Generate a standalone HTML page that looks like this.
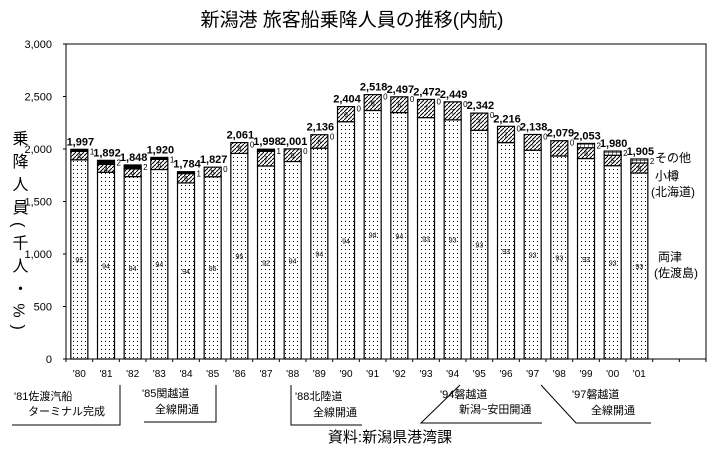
<!DOCTYPE html>
<html><head><meta charset="utf-8"><style>
body{margin:0;background:#fff;}
svg{display:block;font-family:"Liberation Sans","Noto Sans CJK JP",sans-serif;}
</style></head><body>
<svg id="chart" width="710" height="450" viewBox="0 0 710 450" xmlns="http://www.w3.org/2000/svg">
<defs>
<pattern id="dots" width="4" height="4" patternUnits="userSpaceOnUse"><rect width="4" height="4" fill="#fff"/><rect x="1" y="1" width="1" height="1" fill="#000"/></pattern>
<pattern id="hatch" width="4" height="4" patternUnits="userSpaceOnUse"><rect width="4" height="4" fill="#fff"/><path d="M0,4 L4,0" stroke="#000" stroke-width="1"/></pattern>
<pattern id="grid" width="4" height="4" patternUnits="userSpaceOnUse"><rect width="4" height="4" fill="#fff"/><path d="M0,0 H4 M0,0 V4" stroke="#000" stroke-width="1"/></pattern>
</defs>
<text x="352" y="26" font-size="19" text-anchor="middle">新潟港 旅客船乗降人員の推移(内航)</text>
<text x="18" y="130" font-size="16" style="writing-mode:vertical-rl;letter-spacing:7px">乗降人員(千人・%)</text>
<rect x="66" y="44" width="640" height="315" fill="none" stroke="#000" stroke-width="1"/>
<g id="yaxis"></g>
<g id="bars"></g>
<g id="xaxis"></g>
<g font-size="12">
<text x="655" y="162">その他</text>
<text x="655" y="180">小樽</text>
<text x="651" y="196">(北海道)</text>
<text x="658" y="261">両津</text>
<text x="654" y="277">(佐渡島)</text>
</g>
<g font-size="11" stroke-width="1">
<path d="M120,385 V425 H12" fill="none" stroke="#000"/>
<text x="14" y="400">'81佐渡汽船</text>
<text x="28" y="415">ターミナル完成</text>
<path d="M216,385 V422 H144" fill="none" stroke="#000"/>
<text x="142" y="397">'85関越道</text>
<text x="155" y="413">全線開通</text>
<path d="M291,385 V425 H362" fill="none" stroke="#000"/>
<text x="295" y="400">'88北陸道</text>
<text x="313" y="416">全線開通</text>
<path d="M460,385 L421,423 H542" fill="none" stroke="#000"/>
<text x="440" y="398">'94磐越道</text>
<text x="459" y="413">新潟~安田開通</text>
<path d="M541,385 L576,423 H651" fill="none" stroke="#000"/>
<text x="572" y="398">'97磐越道</text>
<text x="591" y="414">全線開通</text>
</g>
<text x="390" y="442" font-size="15" text-anchor="middle">資料:新潟県港湾課</text>
</svg>
<script>
const years = ["'80","'81","'82","'83","'84","'85","'86","'87","'88","'89","'90","'91","'92","'93","'94","'95","'96","'97","'98","'99","'00","'01"];
const totals = [1997,1892,1848,1920,1784,1827,2061,1998,2001,2136,2404,2518,2497,2472,2449,2342,2216,2138,2079,2053,1980,1905];
const ryotsuPct = [95,94,94,94,94,95,95,92,94,94,94,94,94,93,93,93,93,93,93,93,93,93];
const otaruPct = [4,4,4,5,5,5,5,7,6,6,6,6,6,7,7,7,7,7,7,5,5,5];
const otherPct = [1,2,2,1,1,0,0,1,0,0,0,0,0,0,0,0,0,0,0,2,2,2];
const yTicks = [0,500,1000,1500,2000,2500,3000];
const yTickLabels = ["0","500","1,000","1,500","2,000","2,500","3,000"];

const NS="http://www.w3.org/2000/svg";
const X0=66, PW=640, SLOTS=24, Y0=359, PH=315, YMAX=3000;
const slot=PW/SLOTS, bw=17;
function xc(i){return X0+slot*(i+0.5);}
function y(v){return Y0-v/YMAX*PH;}
function mk(tag,attrs,parent){const e=document.createElementNS(NS,tag);for(const k in attrs)e.setAttribute(k,attrs[k]);parent.appendChild(e);return e;}
const ya=document.getElementById('yaxis'), bars=document.getElementById('bars'), xa=document.getElementById('xaxis');
yTicks.forEach((t,i)=>{
  const l=mk('line',{x1:X0-3,x2:X0,y1:y(t),y2:y(t),stroke:'#000'},ya);
  
  
  const tx=mk('text',{x:52,y:y(t)+4,'font-size':11,'text-anchor':'end'},ya);
  tx.textContent=yTickLabels[i];
  
  
});
for(let i=0;i<=SLOTS;i++){
  const l=mk('line',{x1:X0+slot*i,x2:X0+slot*i,y1:Y0,y2:Y0+3,stroke:'#000'},xa);
  
  
}
years.forEach((yr,i)=>{
  const tot=totals[i];
  const r=tot*ryotsuPct[i]/100, o=tot*otaruPct[i]/100, ot=tot-r-o;
  const x=xc(i)-bw/2;
  const g=mk('g',{},bars);
  
  
  const br=mk('rect',{x:x,y:y(r),width:bw,height:y(0)-y(r),fill:'url(#dots)',stroke:'#000','stroke-width':1.2},g);
  
  
  const bo=mk('rect',{x:x,y:y(r+o),width:bw,height:y(r)-y(r+o),fill:'url(#hatch)',stroke:'#000','stroke-width':1.2},g);
  
  
  if(ot>0){
    const bt=mk('rect',{x:x,y:y(tot),width:bw,height:y(r+o)-y(tot),fill:i>=19?'url(#grid)':'#000',stroke:'#000','stroke-width':1.2},g);
    
    
  }
  const pl=mk('text',{x:xc(i),y:y(r/2)+3,'font-size':7,'text-anchor':'middle'},g);
  pl.textContent=ryotsuPct[i];
  
  
  const ol=mk('text',{x:xc(i),y:y(r+o/2)+3,'font-size':7,'text-anchor':'middle'},g);
  ol.textContent=otaruPct[i];
  
  
  const sl=mk('text',{x:x+bw+2,y:y(tot)+5,'font-size':8},g);
  sl.textContent=otherPct[i];
  
  
  const vl=mk('text',{x:xc(i)+1,y:y(tot)-4,'font-size':11,'font-weight':'bold','text-anchor':'middle'},g);
  vl.textContent=tot.toLocaleString('en-US');
  
  
  const xl=mk('text',{x:xc(i),y:377,'font-size':10,'text-anchor':'middle'},xa);
  xl.textContent=yr;
  
  
});
</script>
</body></html>
